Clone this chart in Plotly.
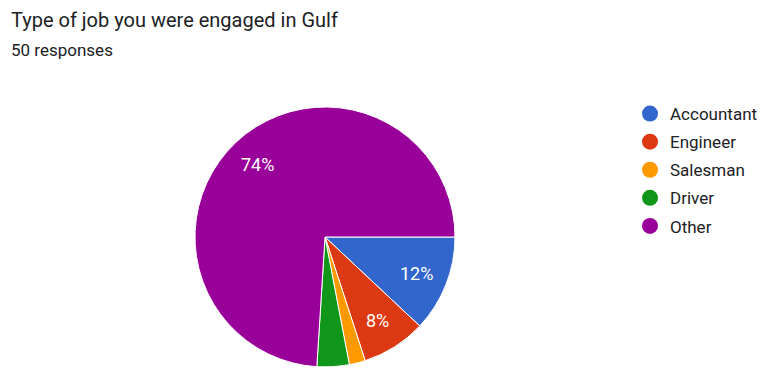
import math
import plotly.graph_objects as go

categories = ["Accountant", "Engineer", "Salesman", "Driver", "Other"]
counts = [6, 4, 1, 2, 37]
colors = ["#3366cc", "#dc3912", "#ff9900", "#109618", "#990099"]
shown = [True, True, False, False, True]

total = sum(counts)

W, H = 760, 368
cx, cy, R = 325, 237, 130

fig = go.Figure()
fig.add_trace(go.Pie(
    labels=categories, values=counts, sort=False, direction="clockwise", rotation=90,
    marker=dict(colors=colors, line=dict(color="white", width=1)),
    textinfo="none",
    showlegend=False, hoverinfo="label+percent",
    domain=dict(x=[(cx - R) / W, (cx + R) / W], y=[(H - cy - R) / H, (H - cy + R) / H]),
))
for name, col in zip(categories, colors):
    fig.add_trace(go.Scatter(x=[None], y=[None], mode="markers", name=name, legendgroup=name,
                             marker=dict(symbol="circle", size=18, color=col)))

# percentage labels on slice bisectors (derived from the data)
annotations = []
cum = 0
for c, s in zip(counts, shown):
    mid = (cum + c / 2) / total * 2 * math.pi  # clockwise from 3 o'clock
    cum += c
    if not s:
        continue
    px = cx + 0.76 * R * math.cos(mid)
    py = cy + 0.76 * R * math.sin(mid)
    annotations.append(dict(text=f"{round(100 * c / total)}%", x=px / W, y=1 - py / H,
                            xref="paper", yref="paper", xanchor="center", yanchor="middle",
                            showarrow=False, font=dict(family="Roboto", size=18, color="white")))

annotations += [
    dict(text="Type of job you were engaged in Gulf", x=9 / W, y=1 - 20 / H, xref="paper", yref="paper",
         xanchor="left", yanchor="middle", showarrow=False,
         font=dict(family="Roboto", size=20, color="#202124")),
    dict(text="50 responses", x=9 / W, y=1 - 50 / H, xref="paper", yref="paper",
         xanchor="left", yanchor="middle", showarrow=False,
         font=dict(family="Roboto", size=17, color="#202124")),
]

fig.update_layout(
    width=W, height=H, margin=dict(l=0, r=0, t=0, b=0, autoexpand=False),
    paper_bgcolor="white", plot_bgcolor="white",
    xaxis=dict(visible=False), yaxis=dict(visible=False),
    legend=dict(x=630 / W, y=1 - 96 / H, xanchor="left", yanchor="top",
                font=dict(family="Roboto", size=17, color="#202124"),
                itemclick=False, tracegroupgap=3, bgcolor="rgba(0,0,0,0)"),
    annotations=annotations,
)
fig.write_html("out.html")
